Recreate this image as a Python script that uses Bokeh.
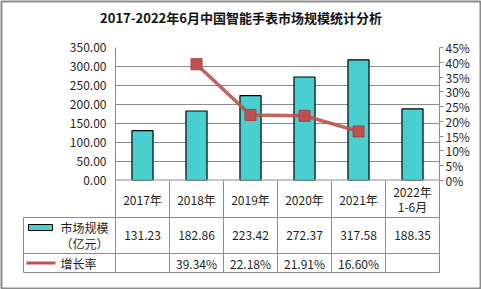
from bokeh.plotting import figure
from bokeh.models import (Range1d, LinearAxis, FixedTicker, NumeralTickFormatter,
                          PrintfTickFormatter, ColumnDataSource, Span, Grid)
from bokeh.core.properties import value
from bokeh.embed import file_html
from bokeh.resources import INLINE

# ---------------- data ----------------
categories = ["2017年", "2018年", "2019年", "2020年", "2021年", "2022年\n1-6月"]
market_size = [131.23, 182.86, 223.42, 272.37, 317.58, 188.35]
growth_rate = [None, 39.34, 22.18, 21.91, 16.60, None]
left_ticks = [0, 50, 100, 150, 200, 250, 300, 350]
right_ticks = [0, 5, 10, 15, 20, 25, 30, 35, 40, 45]
series_names = ["市场规模\n（亿元）", "增长率"]
title_text = "2017-2022年6月中国智能手表市场规模统计分析"

# ---------------- style / layout ----------------
FONT = "Noto Sans CJK SC"
BAR = "#4ACFD0"
RED = "#C0504D"
GRAY = "#8C8C8C"
TXT = "#1F1F1F"
W, H = 481, 289
FL, FR, FT, FB = 115, 439, 47, 180          # frame edges in px
n = len(categories)
CW = (FR - FL) / n                           # column width px
ROWS = [37, 36, 19]                          # table row heights px
LW = 92                                      # legend column width px
LH = 0.92                                    # multi-line text line height

p = figure(width=W, height=H, output_backend="svg", toolbar_location=None,
           x_range=Range1d(0, n), y_range=Range1d(0, left_ticks[-1]),
           min_border_left=FL, min_border_right=W - FR,
           min_border_top=FT, min_border_bottom=H - FB,
           x_axis_location=None, y_axis_location=None)
p.extra_y_ranges = {"pct": Range1d(0, right_ticks[-1]), "px": Range1d(0, FB - FT)}
p.extra_x_ranges = {"px": Range1d(0, FR - FL)}
p.outline_line_color = None
p.background_fill_color = "white"
p.border_fill_color = "white"
p.xgrid.grid_line_color = None
p.ygrid.grid_line_color = None

yl = LinearAxis(ticker=FixedTicker(ticks=left_ticks),
                formatter=NumeralTickFormatter(format="0.00"))
yl.axis_line_color = GRAY
yl.major_tick_line_color = None
yl.minor_tick_line_color = None
yl.major_tick_out = 0
yl.major_tick_in = 0
yl.major_label_standoff = 9
yl.major_label_text_font = FONT
yl.major_label_text_font_size = "12px"
yl.major_label_text_color = TXT
p.add_layout(yl, "left")

yr = LinearAxis(y_range_name="pct", ticker=FixedTicker(ticks=right_ticks),
                formatter=PrintfTickFormatter(format="%d%%"))
yr.axis_line_color = GRAY
yr.major_tick_line_color = GRAY
yr.minor_tick_line_color = None
yr.major_tick_out = 4
yr.major_tick_in = 0
yr.major_label_standoff = 2
yr.major_label_text_font = FONT
yr.major_label_text_font_size = "12px"
yr.major_label_text_color = TXT
p.add_layout(yr, "right")

p.add_layout(Grid(dimension=1, ticker=FixedTicker(ticks=left_ticks),
                  grid_line_color=GRAY, grid_line_width=1))

xs = [i + 0.5 for i in range(n)]
p.vbar(x=xs, top=market_size, width=0.39, fill_color=BAR,
       line_color="black", line_width=1.2)
p.add_layout(Span(location=0, dimension="width", line_color=GRAY, line_width=2))

gy = [float("nan") if v is None else v for v in growth_rate]
p.line(x=xs, y=gy, y_range_name="pct", line_color=RED, line_width=3.5, line_alpha=0.9)
p.scatter(x=xs, y=gy, y_range_name="pct", marker="square", size=11,
          fill_color=RED, line_color="#A8433F", line_width=1)

# ---------------- data table ----------------
col_edges = [k * CW for k in range(n + 1)]
r1, r2, r3 = -ROWS[0], -(ROWS[0] + ROWS[1]), -sum(ROWS)
seg_x0 = [c for c in col_edges] + [-LW, -LW, -LW, -LW]
seg_x1 = [c for c in col_edges] + [FR - FL, FR - FL, FR - FL, -LW]
seg_y0 = [0] * (n + 1) + [r1, r2, r3, r1]
seg_y1 = [r3] * (n + 1) + [r1, r2, r3, r3]
p.segment(x0=seg_x0, y0=seg_y0, x1=seg_x1, y1=seg_y1, x_range_name="px",
          y_range_name="px", line_color=GRAY, line_width=1, level="overlay")

row_c = [-ROWS[0] / 2, r1 - ROWS[1] / 2, r2 - ROWS[2] / 2]
growth_txt = ["" if v is None else f"{v:.2f}%" for v in growth_rate]
tsrc = ColumnDataSource(dict(
    x=xs * 3,
    y=[row_c[0]] * n + [row_c[1]] * n + [row_c[2]] * n,
    t=categories + [f"{v:.2f}" for v in market_size] + growth_txt,
))
p.text(x="x", y="y", text="t", source=tsrc, y_range_name="px",
       text_align="center", text_baseline="middle",
       text_font=value(FONT), text_font_size="12px", text_color=TXT,
       text_line_height=LH, level="overlay")

# legend column
p.quad(left=-87, right=-63, bottom=row_c[1] + 5, top=row_c[1] + 11,
       x_range_name="px", y_range_name="px", fill_color=BAR,
       line_color="black", line_width=1, level="overlay")
p.segment(x0=[-89], x1=[-60], y0=[row_c[2]], y1=[row_c[2]], x_range_name="px",
          y_range_name="px", line_color=RED, line_width=3, level="overlay")
p.scatter(x=[-75], y=[row_c[2]], x_range_name="px", y_range_name="px",
          marker="square", size=9, fill_color=RED, line_color="#A8433F",
          level="overlay")
p.text(x=[-55, -55], y=[row_c[1], row_c[2]], text=series_names,
       x_range_name="px", y_range_name="px", text_align="left",
       text_baseline="middle", text_font=value(FONT), text_font_size="12px",
       text_color=TXT, text_line_height=LH, level="overlay")

# title
p.text(x=[(W / 2) - FL], y=[FB - 17], text=[title_text], x_range_name="px",
       y_range_name="px", text_align="center", text_baseline="middle",
       text_font=value(FONT), text_font_size="13px", text_font_style="bold",
       text_color="#111111", level="overlay")

# outer border
p.quad(left=[-FL + 1], right=[W - FL - 1], bottom=[-(H - FB) + 1], top=[FB - 1],
       x_range_name="px", y_range_name="px", fill_color=None,
       line_color=GRAY, line_width=2, level="overlay")

open("out.html", "w").write(file_html(p, INLINE))
